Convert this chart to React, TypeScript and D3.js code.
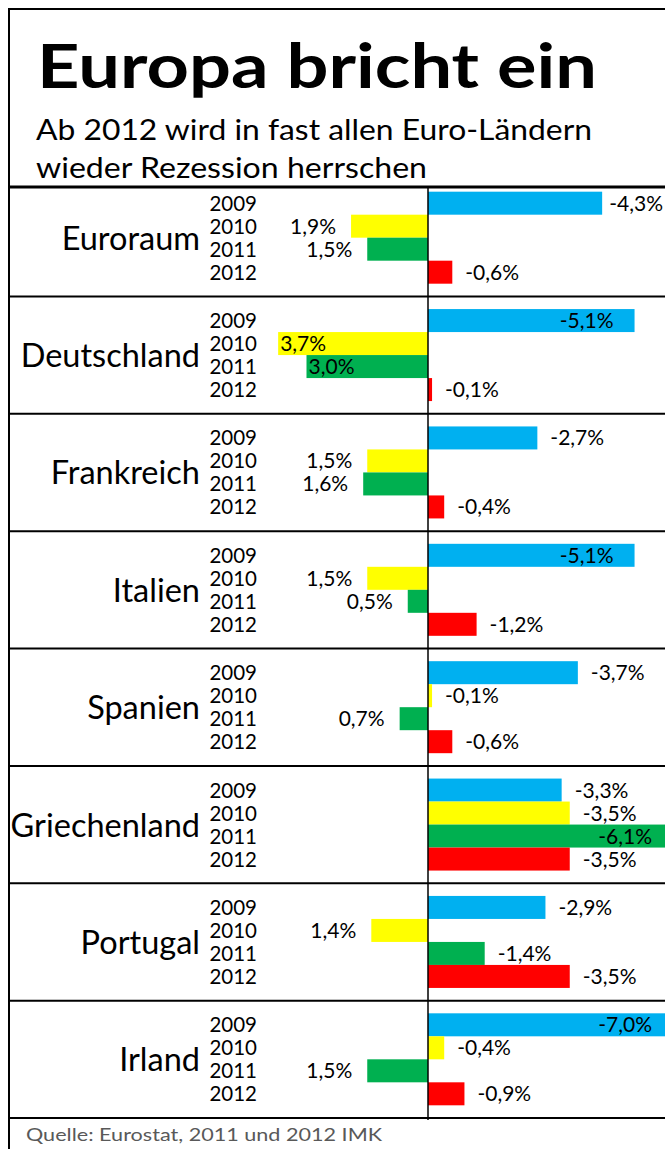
import React from "react";
import * as d3 from "d3";

const countries = ["Euroraum", "Deutschland", "Frankreich", "Italien", "Spanien", "Griechenland", "Portugal", "Irland"];
const years = ["2009", "2010", "2011", "2012"];
const v2009 = [-4.3, -5.1, -2.7, -5.1, -3.7, -3.3, -2.9, -7.0];
const v2010 = [1.9, 3.7, 1.5, 1.5, -0.1, -3.5, 1.4, -0.4];
const v2011 = [1.5, 3.0, 1.6, 0.5, 0.7, -6.1, -1.4, 1.5];
const v2012 = [-0.6, -0.1, -0.4, -1.2, -0.6, -3.5, -3.5, -0.9];
const title = "Europa bricht ein";
const subtitle1 = "Ab 2012 wird in fast allen Euro-Ländern";
const subtitle2 = "wieder Rezession herrschen";
const source = "Quelle: Eurostat, 2011 und 2012 IMK";

const colors = ["#00B0F0", "#FFFF00", "#00B050", "#FF0000"];
const W = 665;
const H = 1149;
const FONT = "Lato, 'Open Sans', sans-serif";
const VAL_SIZE = 21;
const YEAR_SIZE = 20.5;

let ctx: CanvasRenderingContext2D | null = null;
function measure(t: string, size: number) {
  if (!ctx) {
    const c = document.createElement("canvas");
    ctx = c.getContext("2d");
  }
  if (!ctx) return t.length * size * 0.5;
  ctx.font = `${size}px Lato`;
  return ctx.measureText(t).width;
}

const fmt = (v: number) => v.toFixed(1).replace(".", ",") + "%";

export default function App() {
  const series = [v2009, v2010, v2011, v2012];
  const x = d3.scaleLinear().domain([0, -1]).range([428, 468.5]);
  const y = d3.scaleBand<string>().domain(countries).range([179, 1118]);
  const barBlock = 92;
  const yy = d3.scaleBand<string>().domain(years).range([0, barBlock]);
  const x0 = x(0);

  return (
    <svg width={W} height={H} style={{ position: "absolute", left: 0, top: 0, background: "#fff" }} fontFamily={FONT}>
      <rect x={0} y={0} width={W} height={H} fill="#fff" />
      <text x={37} y={88} fontSize={62} fontWeight="bold" textLength={560} lengthAdjust="spacingAndGlyphs">{title}</text>
      <text x={36} y={140} fontSize={29} textLength={556} lengthAdjust="spacingAndGlyphs">{subtitle1}</text>
      <text x={36} y={178} fontSize={29} textLength={391} lengthAdjust="spacingAndGlyphs">{subtitle2}</text>

      {countries.map((c, i) => {
        const top = y(c)!;
        const bw = y.bandwidth();
        const off = top + (bw - barBlock) / 2;
        return (
          <g key={c}>
            <text x={200} y={top + bw / 2 + 12} fontSize={32.5} textAnchor="end">{c}</text>
            {years.map((yr, j) => {
              const v = series[j][i];
              const by = off + yy(yr)!;
              const bh = yy.bandwidth();
              const end = x(v);
              const cy = by + bh / 2;
              const label = fmt(v);
              const w = measure(label, VAL_SIZE);
              let lx: number;
              let anchor: "start" | "end";
              if (v < 0) {
                const avail = 663 - w - end;
                if (avail >= 0) {
                  lx = end + Math.min(13, avail);
                  anchor = "start";
                } else {
                  lx = Math.min(end - 21, 652);
                  anchor = "end";
                }
              } else {
                if (end - 15 - w < 265) {
                  lx = end + 2;
                  anchor = "start";
                } else {
                  lx = end - 15;
                  anchor = "end";
                }
              }
              return (
                <g key={yr}>
                  <rect x={Math.min(end, x0)} y={by} width={Math.abs(end - x0)} height={bh} fill={colors[j]} />
                  <text x={257} y={cy + 7.5} fontSize={YEAR_SIZE} textAnchor="end">{yr}</text>
                  <text x={lx} y={cy + 7.5} fontSize={VAL_SIZE} textAnchor={anchor}>{label}</text>
                </g>
              );
            })}
          </g>
        );
      })}

      {countries.slice(1).map((c) => (
        <line key={c} x1={8} x2={W} y1={y(c)!} y2={y(c)!} stroke="#000" strokeWidth={2} />
      ))}
      <line x1={8} x2={W} y1={1118} y2={1118} stroke="#000" strokeWidth={2} />
      <line x1={8} x2={W} y1={187} y2={187} stroke="#000" strokeWidth={3} />
      <line x1={8} x2={W} y1={9} y2={9} stroke="#000" strokeWidth={2} />
      <line x1={9} x2={9} y1={8} y2={H} stroke="#000" strokeWidth={2} />
      <line x1={x0} x2={x0} y1={187} y2={1120} stroke="#000" strokeWidth={1.5} />

      <text x={26} y={1141} fontSize={18} fill="#595959" textLength={356} lengthAdjust="spacingAndGlyphs">{source}</text>
    </svg>
  );
}
